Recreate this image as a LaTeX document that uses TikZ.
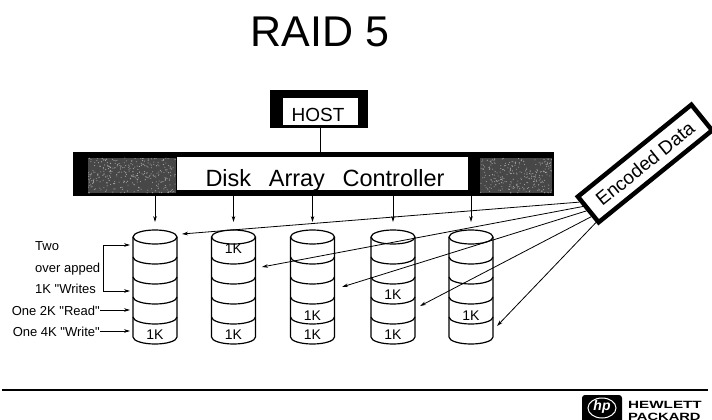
\documentclass[tikz,border=0pt]{standalone}
\usepackage{fontspec}
\setmainfont{Liberation Sans}
% straight double quotes for the request labels
\newfontfamily\labelfont{Liberation Sans}[Ligatures=TeXOff]
\usetikzlibrary{arrows.meta,calc}
\begin{document}
\begin{tikzpicture}[x=1pt,y=-1pt,
  arr/.style={-{Stealth[length=6pt,width=3.6pt]}, line width=0.8pt},
  disk/.style={line width=1.2pt},
  lbl/.style={inner sep=0pt, font=\labelfont\fontsize{13}{15}\selectfont},
  kb/.style={inner sep=0pt, font=\fontsize{14}{16}\selectfont},
  speck/.style={fill=black!35},
]
\clip (0,0) rectangle (712,420);
\fill[white] (0,0) rectangle (712,420);

% title
\node[inner sep=0pt, anchor=base, font=\fontsize{43}{50}\selectfont] (title) at (320,47) {RAID 5};

% host computer
\fill (270,90) rectangle (368,128);
\node[fill=white, minimum width=75pt, minimum height=27pt, inner sep=0pt] (host) at (320,111.5) {};
\node[inner sep=0pt, anchor=base, font=\fontsize{19}{22}\selectfont] (hosttxt) at (318,121) {HOST};

% disk array controller bar
\node[fill=black, minimum width=481pt, minimum height=44pt, inner sep=0pt] (ctrl) at (313.5,174) {};
\fill[black!72] (88,158) rectangle (176,193);
\fill[black!72] (480,158) rectangle (552,193);
\pgfmathsetseed{11}
\foreach \n in {1,...,320} \fill[speck] ({88+88*rnd},{158+35*rnd}) circle[radius=0.55];
\foreach \n in {1,...,260} \fill[speck] ({480+72*rnd},{158+35*rnd}) circle[radius=0.55];
\node[fill=white, minimum width=291pt, minimum height=33pt, inner sep=0pt] (ctrlbox) at (322.5,173.5) {};
\node[inner sep=0pt, anchor=base, font=\fontsize{23.5}{26}\selectfont] (ctrltxt) at (325,186) {Disk\hspace{0.75em}Array\hspace{0.75em}Controller};

\draw[line width=1pt] (host.south) -- (host.south |- ctrl.north);

% five disks, each split into five stripes
\foreach \i/\x in {1/155,2/233.5,3/312.5,4/393,5/471} {
  \draw[disk] (\x-22,237) -- (\x-22,337) arc[start angle=180,end angle=0,x radius=22,y radius=7] -- (\x+22,237);
  \draw[disk] (\x,237) ellipse[x radius=22,y radius=7];
  \foreach \k in {257,277,297,317}
    \draw[disk] (\x-22,\k) arc[start angle=180,end angle=0,x radius=22,y radius=7];
  \coordinate (d\i) at (\x,222);
  \draw[arr] (ctrl.south -| d\i) -- (d\i);
}

% 1K blocks
\node[kb] (k15) at (155,335) {1K};
\node[kb] (k21) at (233.5,249) {1K};
\node[kb] (k25) at (233.5,335) {1K};
\node[kb] (k34) at (312.5,316) {1K};
\node[kb] (k35) at (312.5,335) {1K};
\node[kb] (k43) at (393,295) {1K};
\node[kb] (k45) at (393,335) {1K};
\node[kb] (k54) at (471,316) {1K};

% encoded data source
\node[draw, fill=white, line width=4.5pt, rotate=39, minimum width=146pt, minimum height=33pt,
      inner sep=0pt, font=\fontsize{19}{22}\selectfont] (enc) at (645,163.5) {Encoded Data};
\coordinate (p1) at (182,234);
\coordinate (p2) at (262,267);
\coordinate (p3) at (342,287);
\coordinate (p4) at (420,306);
\coordinate (p5) at (497,326);
\foreach \i/\t in {1/0.2,2/0.35,3/0.5,4/0.7,5/0.9}
  \draw[arr] ($(enc.north west)!\t!(enc.south west)$) -- (p\i);

% request labels on the left
\node[lbl, anchor=base west] (two) at (35,250) {Two};
\node[lbl, anchor=base west] (ovl) at (35,272) {over apped};
\node[lbl, anchor=base west] (wrs) at (35,293) {1K "Writes};
\node[lbl, anchor=base east] (read) at (100,315) {One 2K "Read"};
\node[lbl, anchor=base east] (write) at (100,336) {One 4K "Write"};
\coordinate (w1) at (130,245);
\coordinate (w2) at (130,291);
\coordinate (rd) at (130,310);
\coordinate (wr) at (130,331);
\coordinate (bk) at (103,291);
\draw[arr] (bk) |- (w1);
\draw[arr] (bk) -- (w2);
\draw[arr] (rd -| read.east) -- (rd);
\draw[arr] (wr -| write.east) -- (wr);

% footer rule and logo
\draw[line width=1.8pt] (2,390) -- (708,390);
\fill[rounded corners=3pt] (582,395) rectangle (622,428);
\draw[white, line width=1pt] (602,408) ellipse[x radius=14,y radius=10];
\node[text=white, inner sep=0pt, font=\fontsize{14}{16}\selectfont\bfseries\itshape] (hp) at (602,407) {hp};
\node[inner sep=0pt, anchor=base west, font=\fontsize{10.5}{12}\selectfont\bfseries] (hw) at (628,408) {\scalebox{1.45}[1]{HEWLETT}};
\node[inner sep=0pt, anchor=base west, font=\fontsize{10.5}{12}\selectfont\bfseries] (pk) at (628,420) {\scalebox{1.4}[1]{PACKARD}};
\end{tikzpicture}
\end{document}
